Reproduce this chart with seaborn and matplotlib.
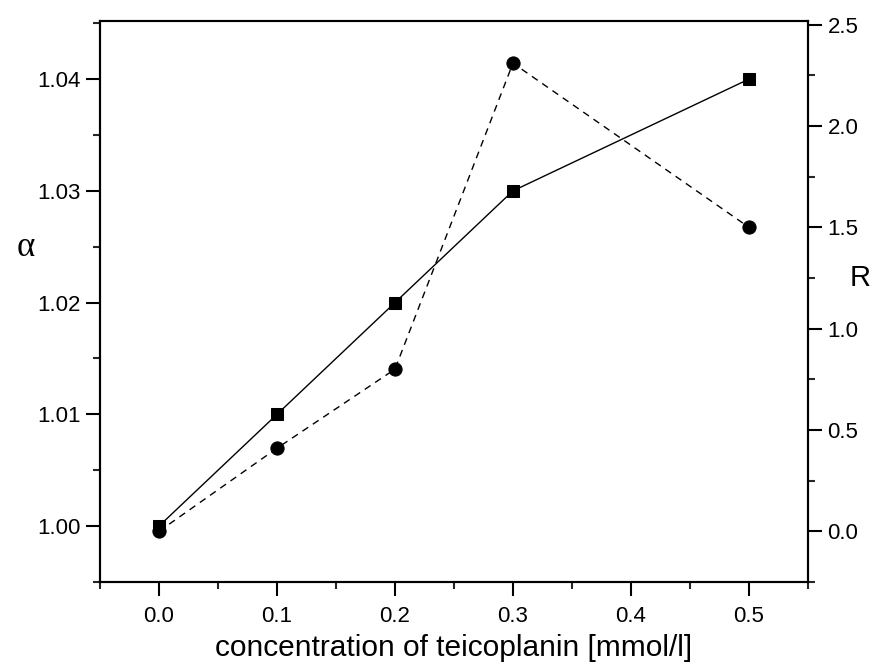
import matplotlib
matplotlib.use("Agg")
import matplotlib.pyplot as plt
from matplotlib.ticker import MultipleLocator
import seaborn as sns
import pandas as pd

concentration = [0.0, 0.1, 0.2, 0.3, 0.5]
alpha_values = [1.000, 1.010, 1.020, 1.030, 1.040]
r_values = [0.0, 0.41, 0.80, 2.31, 1.50]

sns.set_style("ticks")
plt.rcParams['font.family'] = ['Liberation Sans', 'DejaVu Sans']
plt.rcParams['text.color'] = 'black'
plt.rcParams['axes.labelcolor'] = 'black'

df = pd.DataFrame({"c": concentration, "alpha": alpha_values, "R": r_values})

fig = plt.figure(figsize=(8.73, 6.66), dpi=100)
ax = fig.add_axes([0.1145, 0.1261, 0.811, 0.8424])
ax2 = ax.twinx()

sns.lineplot(data=df, x="c", y="alpha", ax=ax, color="black", linewidth=1.0,
             marker="s", markersize=9, markeredgecolor="black", markerfacecolor="black")
sns.lineplot(data=df, x="c", y="R", ax=ax2, color="black", linewidth=1.0,
             linestyle=(0, (5, 4)), marker="o", markersize=9.5,
             markeredgecolor="black", markerfacecolor="black")

ax.set_xlim(-0.05, 0.55)
ax.set_ylim(0.995, 1.0452)
ax2.set_ylim(-0.25, 2.518)

ax.xaxis.set_major_locator(MultipleLocator(0.1))
ax.xaxis.set_minor_locator(MultipleLocator(0.05))
ax.yaxis.set_major_locator(MultipleLocator(0.01))
ax.yaxis.set_minor_locator(MultipleLocator(0.005))
ax2.yaxis.set_major_locator(MultipleLocator(0.5))
ax2.yaxis.set_minor_locator(MultipleLocator(0.25))

ax.xaxis.set_major_formatter(matplotlib.ticker.FormatStrFormatter('%.1f'))
ax.yaxis.set_major_formatter(matplotlib.ticker.FormatStrFormatter('%.2f'))
ax2.yaxis.set_major_formatter(matplotlib.ticker.FormatStrFormatter('%.1f'))

for a in (ax, ax2):
    for s in a.spines.values():
        s.set_linewidth(1.5)
        s.set_color("black")
    a.tick_params(which="major", length=10, width=1.5, direction="out", labelsize=16, colors="black")
    a.tick_params(which="minor", length=5, width=1.5, direction="out")

ax.tick_params(axis="y", which="both", left=True, right=False, pad=4)
ax.tick_params(axis="x", which="both", bottom=True, top=False, pad=7)
ax2.tick_params(axis="y", which="both", right=True, left=False, pad=4)

ax.set_xlabel("concentration of teicoplanin [mmol/l]", fontsize=21.5, labelpad=5, color="black")
ax.set_ylabel("")
ax2.set_ylabel("")
fig.text(0.03, 0.628, "α", fontsize=25, family=["Liberation Serif", "DejaVu Serif"],
         ha="center", va="center", color="black")
fig.text(0.985, 0.583, "R", fontsize=21, ha="center", va="center", color="black")

fig.savefig("out.png", dpi=100)
